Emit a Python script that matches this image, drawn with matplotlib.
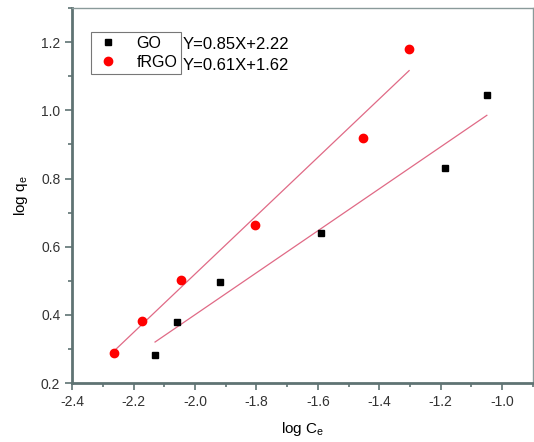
import numpy as np
import matplotlib
matplotlib.use('Agg')
import matplotlib.pyplot as plt
from matplotlib.ticker import MultipleLocator

plt.rcParams['font.family'] = ['Liberation Sans', 'DejaVu Sans']
plt.rcParams['axes.unicode_minus'] = False
plt.rcParams['mathtext.fontset'] = 'custom'
plt.rcParams['mathtext.rm'] = 'Liberation Sans'

# Data
go_x = [-2.13, -2.06, -1.92, -1.59, -1.185, -1.05]
go_y = [0.284, 0.379, 0.497, 0.640, 0.831, 1.044]
frgo_x = [-2.264, -2.172, -2.047, -1.804, -1.452, -1.303]
frgo_y = [0.289, 0.383, 0.503, 0.665, 0.920, 1.179]
eq_labels = ['Y=0.85X+2.22', 'Y=0.61X+1.62']

spine_col = '#5f7373'
fit_col = '#e06a86'

fig = plt.figure(figsize=(5.34, 4.42), dpi=100)
ax = fig.add_axes([0.135, 0.133, 0.863, 0.849])

for xs, ys in [(go_x, go_y), (frgo_x, frgo_y)]:
    k, b = np.polyfit(xs, ys, 1)
    xx = np.array([min(xs), max(xs)])
    ax.plot(xx, k * xx + b, color=fit_col, lw=0.9, zorder=1)

ax.plot(go_x, go_y, 's', color='black', ms=5, label='GO', zorder=3)
ax.plot(frgo_x, frgo_y, 'o', color='#ff0000', ms=6, label='fRGO', zorder=3)

ax.set_xlim(-2.4, -0.9)
ax.set_ylim(0.2, 1.3)
ax.xaxis.set_major_locator(MultipleLocator(0.2))
ax.xaxis.set_minor_locator(MultipleLocator(0.1))
ax.yaxis.set_major_locator(MultipleLocator(0.2))
ax.yaxis.set_minor_locator(MultipleLocator(0.1))
ax.tick_params(which='both', direction='out', color=spine_col, width=1.2,
               labelsize=10, labelcolor='#333333', top=False, right=False)
ax.tick_params(which='major', length=5)
ax.tick_params(which='minor', length=3)

for s in ['left', 'bottom']:
    ax.spines[s].set_color(spine_col)
    ax.spines[s].set_linewidth(2)
for s in ['top', 'right']:
    ax.spines[s].set_color('#8a9a9a')
    ax.spines[s].set_linewidth(1)

ax.set_xlabel(r'log C$_\mathrm{e}$', fontsize=11, labelpad=8)
ax.set_ylabel(r'log q$_\mathrm{e}$', fontsize=11, labelpad=8)

leg = ax.legend(loc='upper left', bbox_to_anchor=(0.041, 0.936), fontsize=11.5,
                frameon=True, fancybox=False, edgecolor='#555555',
                handletextpad=1.0, borderpad=0.25, labelspacing=0.25,
                handlelength=1.6, borderaxespad=0)
leg.get_frame().set_linewidth(0.8)

ax.text(0.241, 0.902, eq_labels[0], transform=ax.transAxes, fontsize=12,
        va='center', ha='left')
ax.text(0.241, 0.846, eq_labels[1], transform=ax.transAxes, fontsize=12,
        va='center', ha='left')

fig.savefig('out.png', dpi=100)
